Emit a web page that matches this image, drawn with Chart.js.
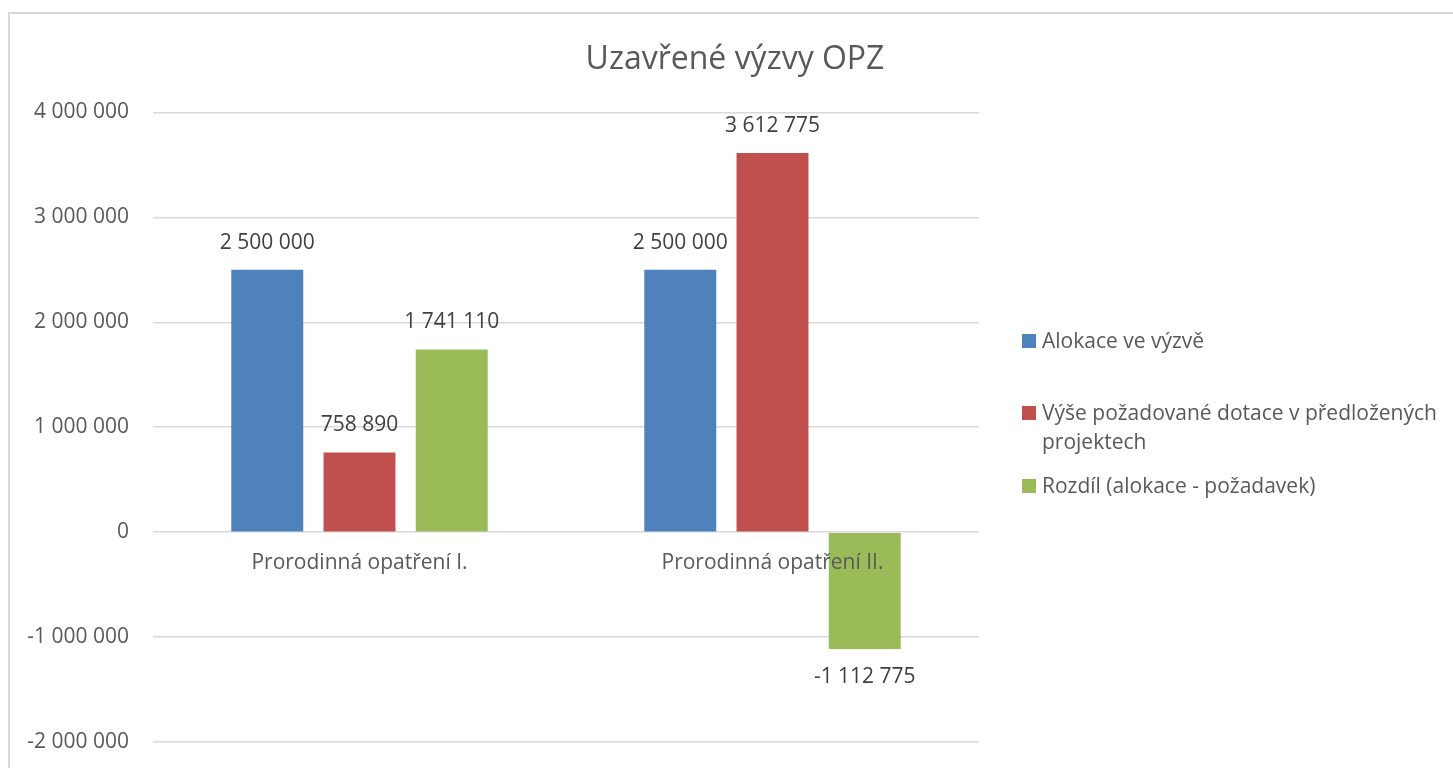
<!DOCTYPE html>
<html>
<head>
<meta charset="utf-8">
<script src="https://cdn.jsdelivr.net/npm/chart.js@4/dist/chart.umd.min.js"></script>
<style>
  html, body { margin: 0; padding: 0; background: #fff; overflow: hidden; }
  #frame { position: absolute; left: 8px; top: 12px; width: 1470px; height: 780px; border: 2px solid #d9d9d9; box-sizing: border-box; }
  #c { position: absolute; left: 0; top: 0; }
  #legend { position: absolute; left: 1022px; top: 0; font-family: "Open Sans", sans-serif; font-size: 21px; color: #595959; }
  .item { position: absolute; left: 0; width: 425px; line-height: 29px; padding-left: 20px; white-space: nowrap; }
  .sw { position: absolute; left: 0; top: 8px; width: 14px; height: 14px; }
</style>
</head>
<body>
<div id="frame"></div>
<canvas id="c" width="1453" height="779"></canvas>
<div id="legend"></div>
<script>
const categories = ["Prorodinná opatření I.", "Prorodinná opatření II."];
const seriesNames = [
  ["Alokace ve výzvě"],
  ["Výše požadované dotace v předložených", "projektech"],
  ["Rozdíl (alokace - požadavek)"]
];
const alokace = [2500000, 2500000];
const pozadavek = [758890, 3612775];
const rozdil = [1741110, -1112775];
const seriesColors = ["#4F81BD", "#C0504D", "#9BBB59"];
const yMin = -2000000, yMax = 4000000, yStep = 1000000;
const chartTitle = "Uzavřené výzvy OPZ";

function fmt(v) {
  const s = String(Math.abs(Math.round(v))).replace(/\B(?=(\d{3})+(?!\d))/g, ' ');
  return (v < 0 ? '-' : '') + s;
}

const FONT = '"Open Sans", sans-serif';

const dataLabels = {
  id: 'dataLabels',
  afterDatasetsDraw(chart) {
    const ctx = chart.ctx;
    ctx.save();
    ctx.font = '21px ' + FONT;
    ctx.fillStyle = '#404040';
    ctx.textAlign = 'center';
    ctx.textBaseline = 'middle';
    chart.data.datasets.forEach((ds, di) => {
      const meta = chart.getDatasetMeta(di);
      meta.data.forEach((bar, i) => {
        const v = ds.data[i];
        const y = v >= 0 ? bar.y - 27 : bar.y + 28;
        ctx.fillText(fmt(v), bar.x, y);
      });
    });
    ctx.restore();
  }
};

const seriesData = [alokace, pozadavek, rozdil];
new Chart(document.getElementById('c'), {
  type: 'bar',
  data: {
    labels: categories,
    datasets: seriesData.map((d, i) => ({
      label: seriesNames[i].join(' '),
      data: d,
      backgroundColor: seriesColors[i],
      categoryPercentage: 0.67,
      barPercentage: 0.78
    }))
  },
  options: {
    responsive: false,
    animation: false,
    devicePixelRatio: 1,
    layout: { padding: { left: 17, right: 0, top: 0, bottom: 37 } },
    plugins: {
      legend: { display: false },
      tooltip: { enabled: false },
      title: {
        display: true,
        text: chartTitle,
        color: '#595959',
        font: { family: FONT, size: 32, weight: 'normal', lineHeight: 1.2 },
        padding: { top: 41, bottom: 33 }
      }
    },
    scales: {
      x: {
        position: { y: 0 },
        grid: { display: false, drawTicks: false },
        border: { display: false },
        ticks: { color: '#595959', font: { family: FONT, size: 21 }, padding: 18, maxRotation: 0, z: 1 }
      },
      y: {
        min: yMin, max: yMax,
        afterFit(scale) { scale.width = 136; },
        grid: { color: '#d9d9d9', lineWidth: 1.5, drawTicks: false },
        border: { display: false },
        ticks: {
          stepSize: yStep,
          color: '#595959',
          font: { family: FONT, size: 21 },
          padding: 24,
          callback: (v) => fmt(v)
        }
      },
      legendSpace: {
        type: 'linear',
        position: 'right',
        afterFit(scale) { scale.width = 1453 - 979; },
        grid: { display: false, drawTicks: false },
        border: { display: false },
        ticks: { display: false }
      }
    }
  },
  plugins: [dataLabels]
});

const legendEl = document.getElementById('legend');
const legendTops = [326, 398, 471];
seriesNames.forEach((lines, i) => {
  const it = document.createElement('div');
  it.className = 'item';
  it.style.top = legendTops[i] + 'px';
  const sw = document.createElement('span');
  sw.className = 'sw';
  sw.style.background = seriesColors[i];
  it.appendChild(sw);
  lines.forEach((ln, j) => {
    if (j > 0) it.appendChild(document.createElement('br'));
    it.appendChild(document.createTextNode(ln));
  });
  legendEl.appendChild(it);
});
</script>
</body>
</html>
